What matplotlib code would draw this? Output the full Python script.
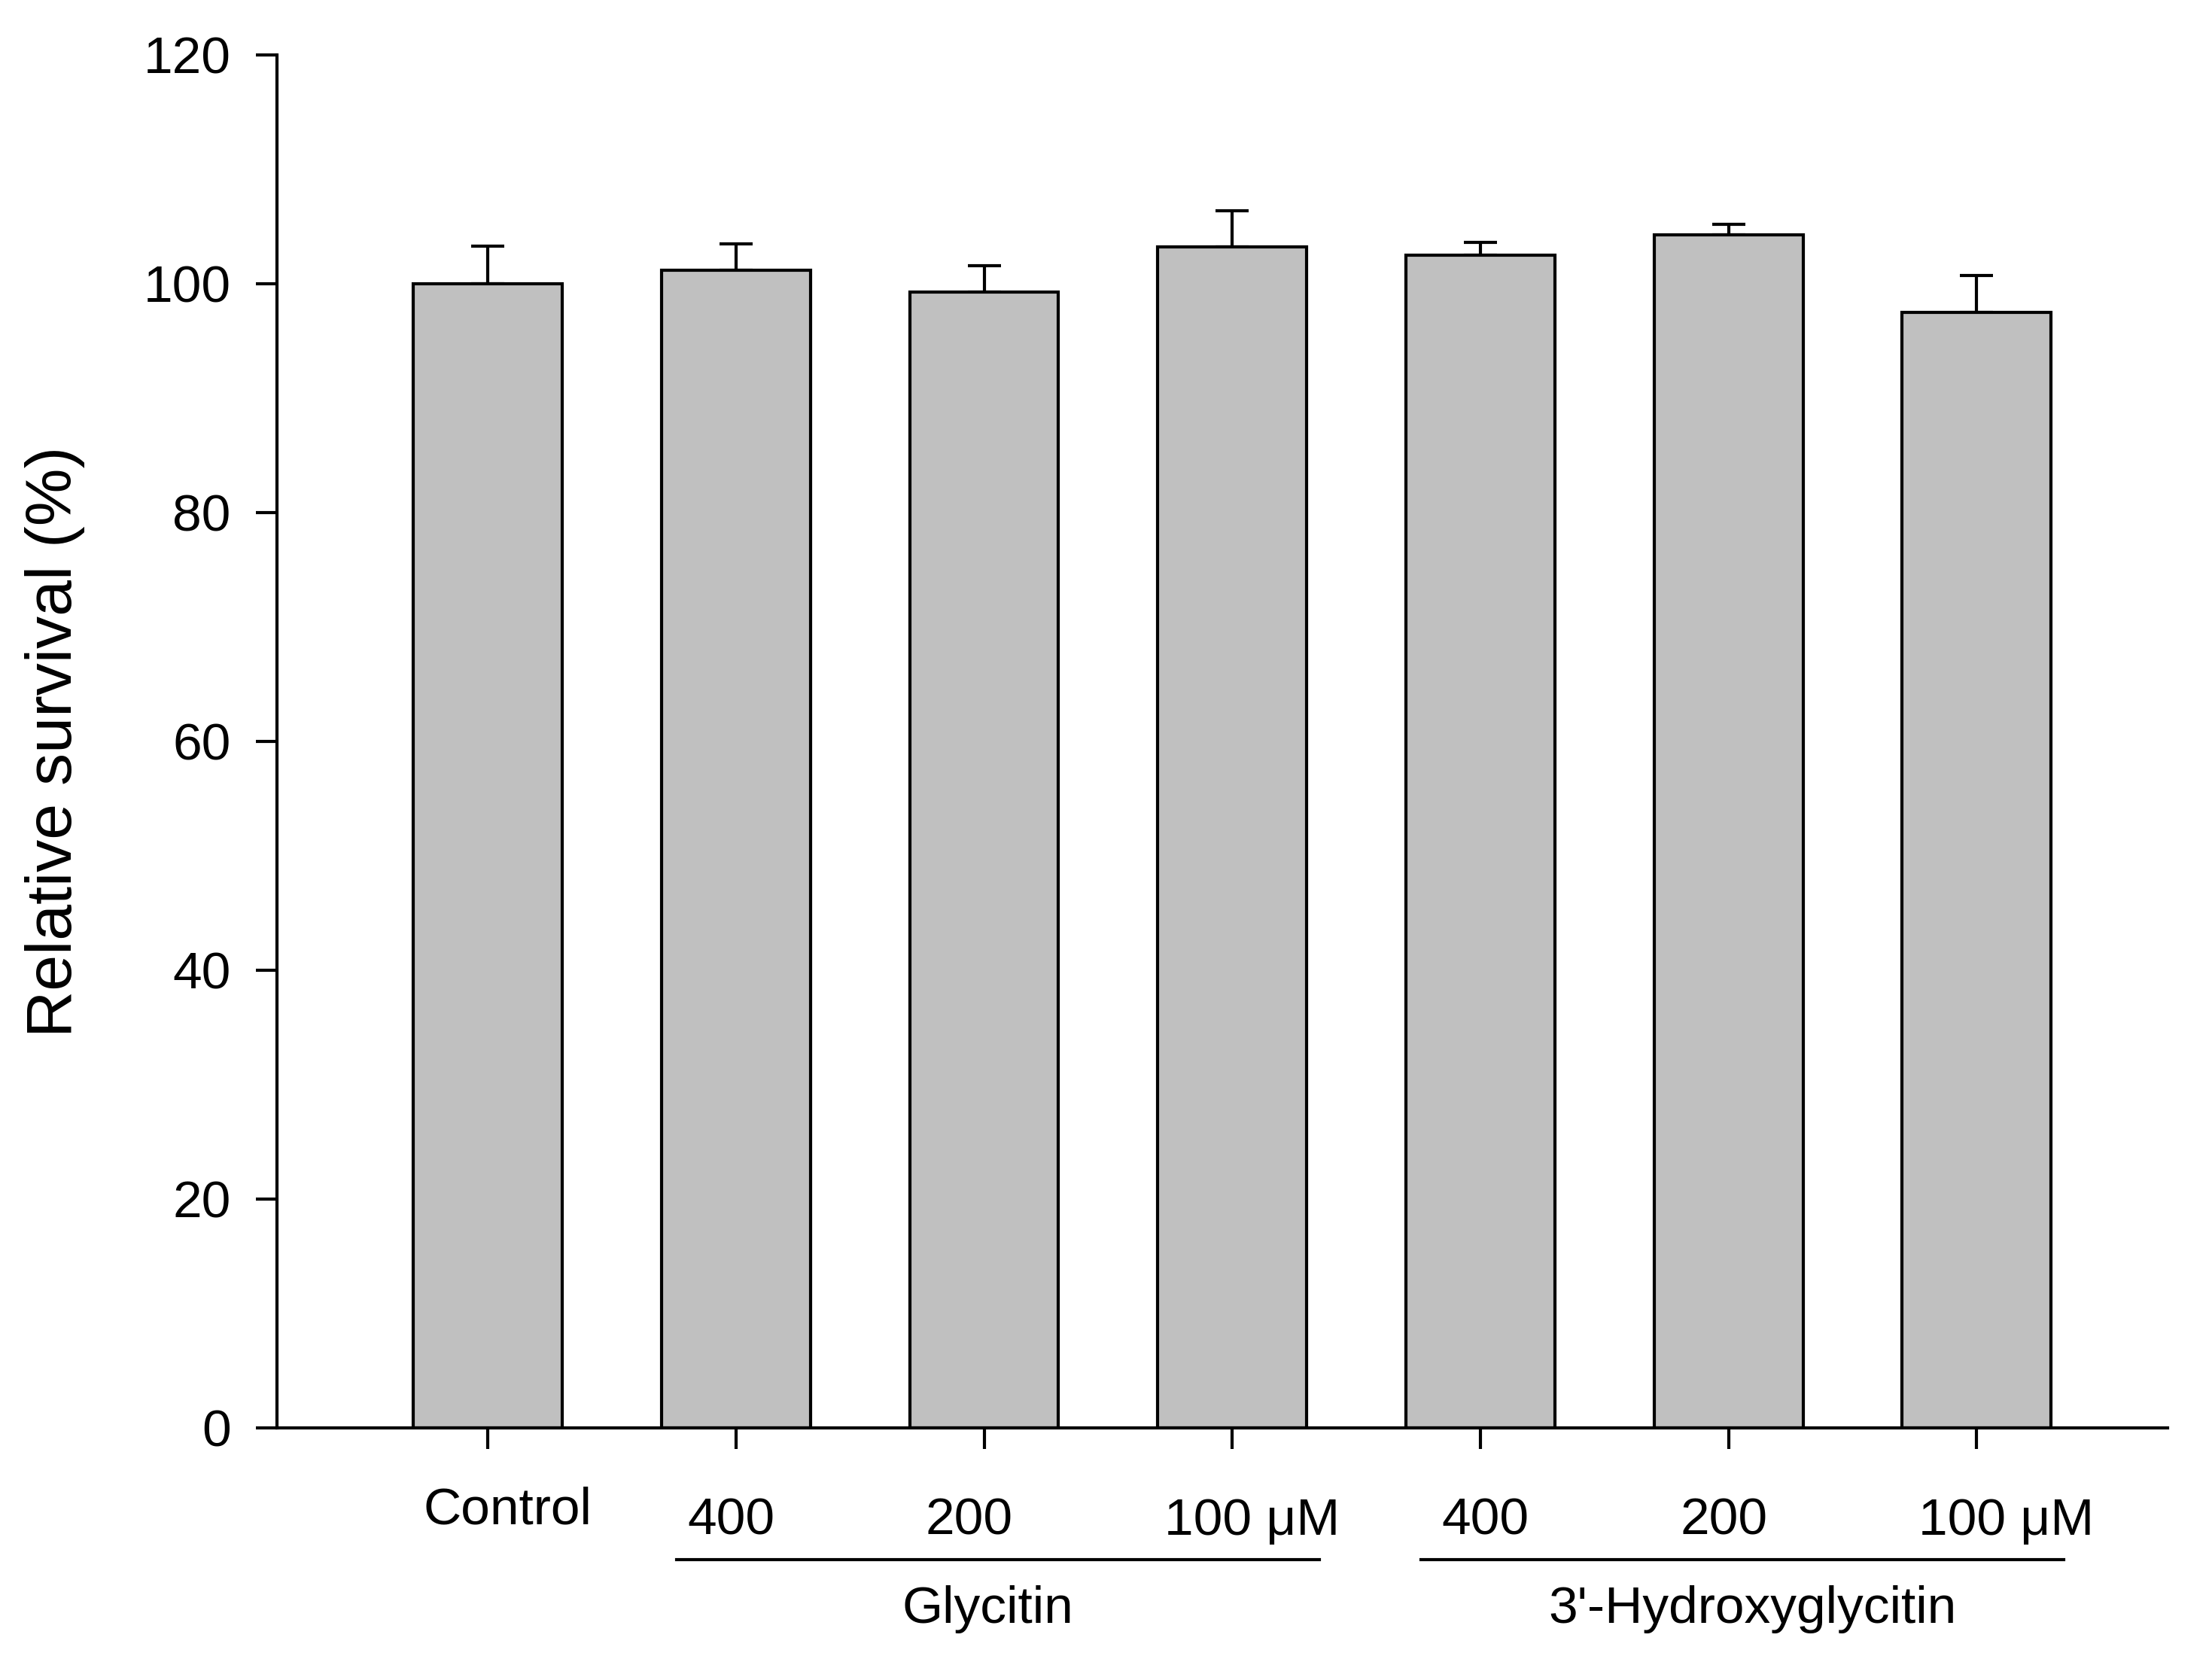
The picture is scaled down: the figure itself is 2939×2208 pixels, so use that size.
import numpy as np
import matplotlib
matplotlib.use("Agg")
import matplotlib.pyplot as plt

plt.rcParams['font.family'] = ['Liberation Sans', 'DejaVu Sans']

# Data
groups = ['Control', 'Glycitin', 'Glycitin', 'Glycitin',
          "3'-Hydroxyglycitin", "3'-Hydroxyglycitin", "3'-Hydroxyglycitin"]
dose_labels = ['Control', '400', '200', '100 \u03bcM', '400', '200', '100 \u03bcM']
survival = [100.0, 101.2, 99.3, 103.2, 102.5, 104.3, 97.5]
sem = [3.3, 2.3, 2.3, 3.2, 1.1, 0.9, 3.2]
group_names = ['Glycitin', "3'-Hydroxyglycitin"]

# small horizontal nudges of the hand-placed labels (layout only)
label_dx = [0.08, -0.02, -0.06, 0.08, 0.02, -0.02, 0.12]
group_dx = [-0.04, 0.04]

x = np.arange(len(survival))

fig = plt.figure(figsize=(14.695, 11.04), dpi=200)
ax = fig.add_axes([0.1252, 0.1409, 0.98 - 0.1252, 0.967 - 0.1409])

ax.bar(x, survival, width=0.6, color='#c0c0c0', edgecolor='black', linewidth=1.5, zorder=2)
ax.errorbar(x, survival, yerr=[np.zeros(len(sem)), sem], fmt='none', ecolor='black',
            elinewidth=1.5, capsize=8, capthick=1.5, zorder=1)

ax.set_xlim(-0.85, 6.77)
ax.set_ylim(0, 120)
ax.set_yticks(np.arange(0, 121, 20))
ax.set_xticks(x)
ax.set_xticklabels([])
ax.tick_params(axis='both', direction='out', length=10, width=1.5, labelsize=25)
ax.tick_params(axis='y', pad=12)
for side in ['top', 'right']:
    ax.spines[side].set_visible(False)
for side in ['left', 'bottom']:
    ax.spines[side].set_linewidth(1.5)

ax.set_ylabel('Relative survival (%)', fontsize=31, labelpad=28)

# dose labels under the ticks
trans = ax.get_xaxis_transform()
for xi, lab, dx in zip(x, dose_labels, label_dx):
    yy = -0.060 if lab == 'Control' else -0.068
    ax.text(xi + dx, yy, lab, transform=trans, ha='center', va='center', fontsize=25)

# group brackets
for name, dx in zip(group_names, group_dx):
    idx = [i for i, g in enumerate(groups) if g == name]
    x0, x1 = x[idx[0]] - 0.24, x[idx[-1]] + 0.35
    ax.plot([x0, x1], [-0.096, -0.096], transform=trans, color='black', lw=1.5, clip_on=False)
    ax.text((x0 + x1) / 2 + dx, -0.132, name, transform=trans, ha='center', va='center', fontsize=25)

fig.savefig('out.png', dpi=200, facecolor='white')
